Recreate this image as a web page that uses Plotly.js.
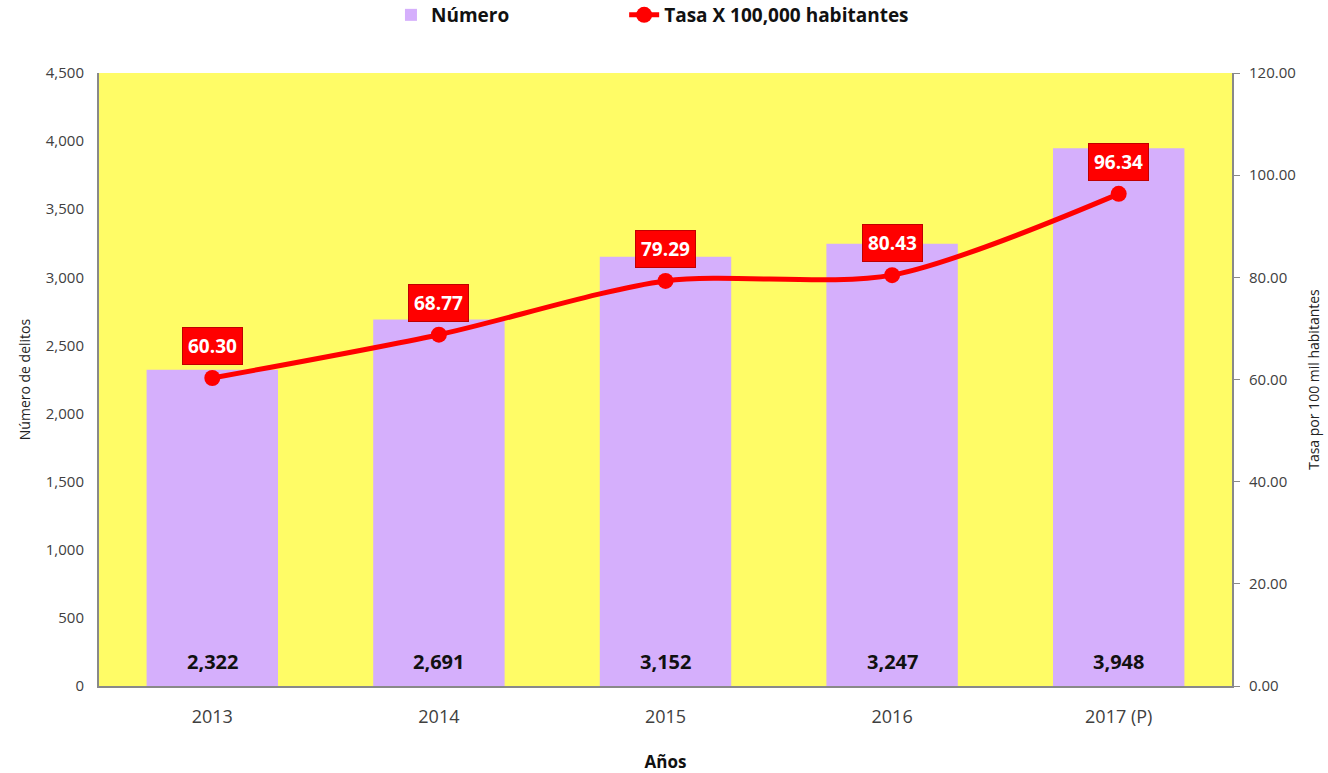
<!DOCTYPE html>
<html>
<head>
<meta charset="utf-8">
<script src="https://cdn.plot.ly/plotly-3.0.1.min.js"></script>
<style>
  html, body { margin: 0; padding: 0; background: #fff; }
  #grafico { width: 1328px; height: 773px; }
</style>
</head>
<body>
<div id="grafico"></div>
<script>
  // datos
  let anios = ['2013', '2014', '2015', '2016', '2017 (P)'];
  let numeroDelitos = [2322, 2691, 3152, 3247, 3948];
  let tasa = [60.30, 68.77, 79.29, 80.43, 96.34];

  let fuente = 'Open Sans, Noto Sans, sans-serif';
  let posiciones = anios.map((a, i) => i);

  let barras = {
    x: posiciones,
    y: numeroDelitos,
    type: 'bar',
    name: 'Número',
    legend: 'legend',
    marker: { color: '#D5AFFC' },
    hoverinfo: 'y'
  };

  let linea = {
    x: posiciones,
    y: tasa,
    yaxis: 'y2',
    type: 'scatter',
    mode: 'lines+markers',
    name: 'Tasa X 100,000 habitantes',
    legend: 'legend2',
    line: { color: '#FF0000', width: 5, shape: 'spline', smoothing: 0.8 },
    marker: { color: '#FF0000', size: 16 }
  };

  let anotaciones = [];
  anios.forEach((a, i) => {
    // etiqueta de la barra, cerca de la base
    anotaciones.push({
      x: i, y: 0, xref: 'x', yref: 'y',
      text: numeroDelitos[i].toLocaleString('en-US'),
      showarrow: false, yshift: 25,
      font: { family: fuente, size: 20, color: '#111', weight: 'bold' }
    });
    // etiqueta de la tasa en caja roja
    anotaciones.push({
      x: i, y: tasa[i], xref: 'x', yref: 'y2',
      text: tasa[i].toFixed(2),
      showarrow: false, yshift: 32,
      bgcolor: '#FF0000', bordercolor: '#C00000', borderwidth: 1, borderpad: 5,
      font: { family: fuente, size: 19, color: '#FFFFFF', weight: 'bold' }
    });
  });

  let fuenteLeyenda = { family: fuente, size: 19, color: '#111', weight: 'bold' };

  let layout = {
    width: 1328,
    height: 773,
    margin: { l: 99, r: 96, t: 73, b: 87 },
    paper_bgcolor: '#FFFFFF',
    plot_bgcolor: '#FFFC66',
    font: { family: fuente, color: '#404040' },
    showlegend: true,
    legend: {
      orientation: 'h',
      xref: 'container', yref: 'container',
      x: 0.2944, xanchor: 'left',
      y: 0.9806, yanchor: 'middle',
      font: fuenteLeyenda,
      bgcolor: 'rgba(0,0,0,0)'
    },
    legend2: {
      orientation: 'h',
      xref: 'container', yref: 'container',
      x: 0.470, xanchor: 'left',
      y: 0.9806, yanchor: 'middle',
      font: fuenteLeyenda,
      bgcolor: 'rgba(0,0,0,0)'
    },
    bargap: 0.42,
    xaxis: {
      range: [-0.5, anios.length - 0.5],
      tickvals: posiciones, ticktext: anios,
      showgrid: false, zeroline: false,
      showline: true, linecolor: '#898989', linewidth: 2,
      ticks: '', ticklabelstandoff: 13,
      tickfont: { family: fuente, size: 18, color: '#404040' },
      title: {
        text: 'Años', standoff: 34,
        font: { family: fuente, size: 17, color: '#111', weight: 'bold' }
      },
      automargin: false
    },
    yaxis: {
      range: [0, 4500], dtick: 500, tickformat: ',d',
      showgrid: false, zeroline: false,
      showline: true, linecolor: '#898989', linewidth: 2,
      ticks: 'outside', ticklen: 10, tickcolor: 'rgba(0,0,0,0)',
      tickfont: { family: fuente, size: 15, color: '#404040' },
      title: {
        text: 'Número de delitos', standoff: 12,
        font: { family: fuente, size: 14, color: '#222' }
      },
      automargin: false
    },
    yaxis2: {
      overlaying: 'y', side: 'right',
      range: [0, 120], dtick: 20, tickformat: '.2f',
      showgrid: false, zeroline: false,
      showline: true, linecolor: '#898989', linewidth: 2,
      ticks: 'outside', ticklen: 6, tickcolor: '#898989',
      ticklabelstandoff: 6,
      tickfont: { family: fuente, size: 15, color: '#404040' },
      title: {
        text: 'Tasa por 100 mil habitantes', standoff: 14,
        font: { family: fuente, size: 14, color: '#222' }
      },
      automargin: false
    },
    annotations: anotaciones
  };

  Plotly.newPlot('grafico', [barras, linea], layout, {
    displayModeBar: false,
    responsive: false
  });
</script>
</body>
</html>
